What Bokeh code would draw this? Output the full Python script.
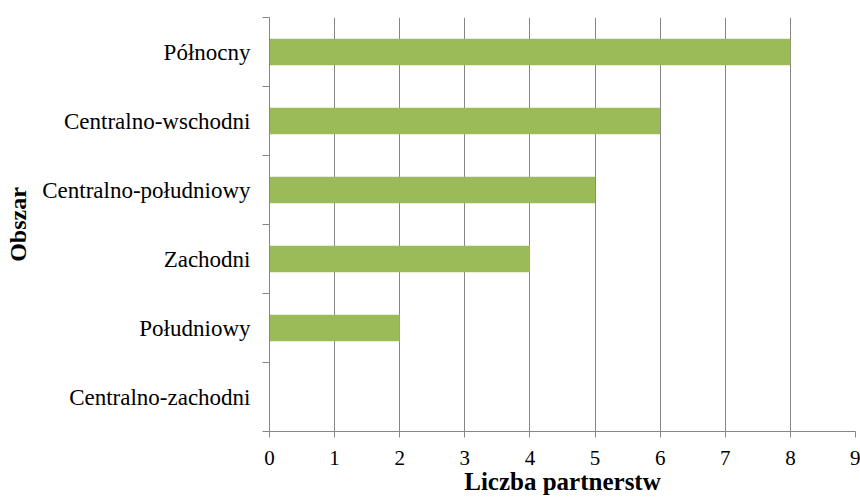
from bokeh.plotting import figure
from bokeh.models import FixedTicker, Range1d, ColumnDataSource
from bokeh.embed import file_html
from bokeh.resources import INLINE

categories = ["Północny", "Centralno-wschodni", "Centralno-południowy",
              "Zachodni", "Południowy", "Centralno-zachodni"]
values = [8, 6, 5, 4, 2, 0]
x_ticks = [0, 1, 2, 3, 4, 5, 6, 7, 8, 9]
x_title = "Liczba partnerstw"
y_title = "Obszar"

n = len(categories)
ypos = [n - i - 0.5 for i in range(n)]
src = ColumnDataSource(dict(y=ypos, v=values, name=categories))

FONT = "'Liberation Serif', 'Times New Roman', serif"
GRAY = "#868686"

p = figure(width=860, height=502, output_backend="svg", toolbar_location=None,
           x_range=Range1d(0, 9), y_range=Range1d(0, n),
           min_border_left=269, min_border_right=5, min_border_top=17,
           min_border_bottom=71)
p.outline_line_color = None
p.background_fill_color = "white"
p.border_fill_color = "white"

p.hbar(y="y", left=0, right="v", height=0.385, source=src,
       fill_color="#9BBB59", line_color=None)

# x axis
p.xaxis.ticker = FixedTicker(ticks=x_ticks)
p.xaxis.axis_line_color = GRAY
p.xaxis.major_tick_line_color = GRAY
p.xaxis.major_tick_out = 6
p.xaxis.major_tick_in = 0
p.xaxis.minor_tick_line_color = None
p.xaxis.major_label_standoff = 13
p.xaxis.major_label_text_font = FONT
p.xaxis.major_label_text_font_size = "21px"
p.xaxis.major_label_text_color = "black"
p.xaxis.axis_label = x_title
p.xaxis.axis_label_text_font = FONT
p.xaxis.axis_label_text_font_style = "bold"
p.xaxis.axis_label_text_font_size = "25px"
p.xaxis.axis_label_text_color = "black"
p.xaxis.axis_label_standoff = 0

# y axis: labels at category centres, ticks at boundaries
p.yaxis.ticker = FixedTicker(ticks=ypos, minor_ticks=list(range(n + 1)))
p.yaxis.major_label_overrides = {y: c for y, c in zip(ypos, categories)}
p.yaxis.axis_line_color = GRAY
p.yaxis.major_tick_line_color = None
p.yaxis.major_tick_out = 0
p.yaxis.major_tick_in = 0
p.yaxis.minor_tick_line_color = GRAY
p.yaxis.minor_tick_out = 7
p.yaxis.minor_tick_in = 0
p.yaxis.major_label_standoff = 12
p.yaxis.major_label_text_font = FONT
p.yaxis.major_label_text_font_size = "23px"
p.yaxis.major_label_text_color = "black"
p.yaxis.axis_label = y_title
p.yaxis.axis_label_text_font = FONT
p.yaxis.axis_label_text_font_style = "bold"
p.yaxis.axis_label_text_font_size = "24px"
p.yaxis.axis_label_text_color = "black"
p.yaxis.axis_label_standoff = 8

# grids
p.ygrid.grid_line_color = None
p.xgrid.ticker = FixedTicker(ticks=x_ticks)
p.xgrid.grid_line_color = GRAY
p.xgrid.grid_line_width = 1

open("out.html", "w").write(file_html(p, INLINE))
